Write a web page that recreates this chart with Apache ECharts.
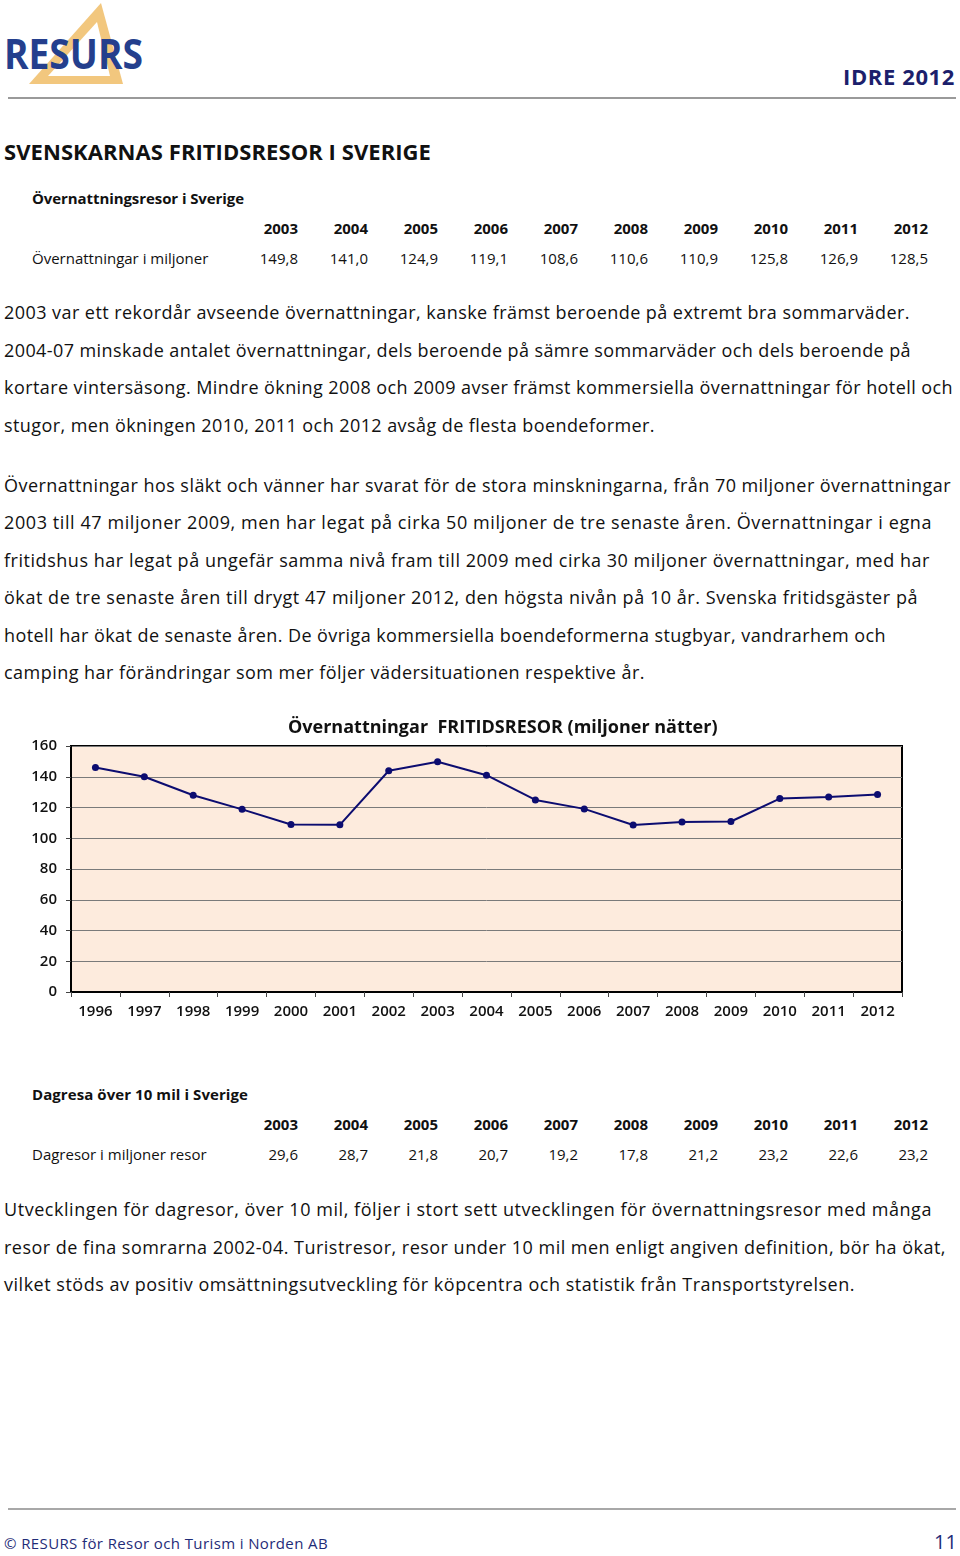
<!DOCTYPE html>
<html><head><meta charset="utf-8">
<script src="https://cdn.jsdelivr.net/npm/echarts@6/dist/echarts.min.js"></script>
<style>
html,body{margin:0;padding:0;background:#fff;}
body{width:960px;height:1556px;position:relative;overflow:hidden;font-family:"Open Sans","DejaVu Sans",sans-serif;color:#111;}
.t{position:absolute;white-space:nowrap;height:24px;line-height:24px;}
.p{font-size:18px;}
.b{font-weight:bold;}
.r{text-align:right;}
.rule{position:absolute;left:8px;width:948px;height:2px;background:#9a9a9a;}
</style></head><body>
<svg style="position:absolute;left:0;top:0" width="160" height="95">
  <polygon points="29,84 101,3 123,84" fill="#f2c77e"/>
  <polygon points="48,76 97,22 110,76" fill="#ffffff"/>
</svg>
<div class="t b" id="logo" style="left:4px;top:30px;height:46px;line-height:46px;font-size:42px;color:#243f8d;transform-origin:0 0;">RESURS</div>
<div class="t b" data-w="112" style="left:843px;top:64px;font-size:22px;color:#1c1f6c;">IDRE 2012</div>
<div class="rule" style="top:97px;"></div>

<div class="t b" data-w="427" style="left:4px;top:139px;font-size:22px;">SVENSKARNAS FRITIDSRESOR I SVERIGE</div>
<div class="t b" data-w="212" style="left:32px;top:186px;font-size:15px;">Övernattningsresor i Sverige</div>

<div id="chart" style="position:absolute;left:0;top:700px;width:960px;height:335px;"></div>

<div class="t b" data-w="216" style="left:32px;top:1082px;font-size:15px;">Dagresa över 10 mil i Sverige</div>

<div class="rule" style="top:1508px;height:2px;background:#a8a8a8;"></div>
<div class="t" data-w="324" style="left:4px;top:1531px;font-size:15px;color:#1f2c78;">© RESURS för Resor och Turism i Norden AB</div>
<div class="t" style="left:934px;top:1530px;font-size:20px;color:#1f2c78;">11</div>

<script>
// ---------- data ----------
const tableYears = ['2003','2004','2005','2006','2007','2008','2009','2010','2011','2012'];
const overnightLabel = 'Övernattningar i miljoner';
const overnightValues = ['149,8','141,0','124,9','119,1','108,6','110,6','110,9','125,8','126,9','128,5'];
const dayTripLabel = 'Dagresor i miljoner resor';
const dayTripValues = ['29,6','28,7','21,8','20,7','19,2','17,8','21,2','23,2','22,6','23,2'];

const chartTitle = 'Övernattningar  FRITIDSRESOR (miljoner nätter)';
const chartYears = ['1996','1997','1998','1999','2000','2001','2002','2003','2004','2005','2006','2007','2008','2009','2010','2011','2012'];
const chartValues = [146.0, 140.0, 128.0, 118.8, 108.9, 108.7, 143.9, 149.8, 141.0, 124.9, 119.1, 108.6, 110.6, 110.9, 125.8, 126.9, 128.5];

const para1 = [
 ['2003 var ett rekordår avseende övernattningar, kanske främst beroende på extremt bra sommarväder.', 906],
 ['2004-07 minskade antalet övernattningar, dels beroende på sämre sommarväder och dels beroende på', 907],
 ['kortare vintersäsong. Mindre ökning 2008 och 2009 avser främst kommersiella övernattningar för hotell och', 949],
 ['stugor, men ökningen 2010, 2011 och 2012 avsåg de flesta boendeformer.', 651]
];
const para2 = [
 ['Övernattningar hos släkt och vänner har svarat för de stora minskningarna, från 70 miljoner övernattningar', 947],
 ['2003 till 47 miljoner 2009, men har legat på cirka 50 miljoner de tre senaste åren. Övernattningar i egna', 928],
 ['fritidshus har legat på ungefär samma nivå fram till 2009 med cirka 30 miljoner övernattningar, med har', 926],
 ['ökat de tre senaste åren till drygt 47 miljoner 2012, den högsta nivån på 10 år. Svenska fritidsgäster på', 914],
 ['hotell har ökat de senaste åren. De övriga kommersiella boendeformerna stugbyar, vandrarhem och', 882],
 ['camping har förändringar som mer följer vädersituationen respektive år.', 641]
];
const para3 = [
 ['Utvecklingen för dagresor, över 10 mil, följer i stort sett utvecklingen för övernattningsresor med många', 928],
 ['resor de fina somrarna 2002-04. Turistresor, resor under 10 mil men enligt angiven definition, bör ha ökat,', 942],
 ['vilket stöds av positiv omsättningsutveckling för köpcentra och statistik från Transportstyrelsen.', 851]
];

// ---------- page text ----------
function add(txt, cls, style, w){
  const d=document.createElement('div'); d.className='t '+cls; d.textContent=txt;
  d.setAttribute('style',style); if(w) d.dataset.w=w; document.body.appendChild(d); return d;
}
function table(headY, rowY, label, vals){
  tableYears.forEach((y,i)=>{
    const right = 298 + 70*i;
    add(y,'b r','left:'+(right-60)+'px;width:60px;top:'+(headY-12)+'px;font-size:15px;');
    add(vals[i],'r','left:'+(right-60)+'px;width:60px;top:'+(rowY-12)+'px;font-size:15px;');
  });
  add(label,'','left:32px;top:'+(rowY-12)+'px;font-size:15px;');
}
table(228,258,overnightLabel,overnightValues);
table(1124,1154,dayTripLabel,dayTripValues);

function para(lines, y0, step){
  lines.forEach((l,i)=>{
    const cy = y0 + step*i;
    add(l[0],'p','left:4px;top:'+Math.round(cy-12)+'px;', l[1]);
  });
}
para(para1, 312, 37.6);
para(para2, 485, 37.4);
para(para3, 1209, 37.5);

// fit widths via letter-spacing
document.querySelectorAll('[data-w]').forEach(el=>{
  const target=+el.dataset.w;
  el.style.letterSpacing='0px';
  const w=el.getBoundingClientRect().width;
  const n=el.textContent.length;
  el.style.letterSpacing=((target-w)/n)+'px';
});
// logo: narrow by horizontal scaling
(function(){
  const el=document.getElementById('logo');
  const w=el.getBoundingClientRect().width;
  el.style.transform='scaleX('+(139/w)+')';
})();

// ---------- chart ----------
const chart = echarts.init(document.getElementById('chart'));
chart.setOption({
  animation:false,
  title:{text:chartTitle,left:283,top:14,textStyle:{fontSize:18,fontWeight:'bold',color:'#111',fontFamily:'Open Sans'}},
  grid:{left:71,right:58,top:46,height:246,show:true,backgroundColor:'#fdebdd',borderColor:'#000',borderWidth:2},
  xAxis:{type:'category',data:chartYears,boundaryGap:true,
    axisLine:{show:true,lineStyle:{color:'#000',width:2}},
    axisTick:{show:true,length:5,lineStyle:{color:'#444'}},
    axisLabel:{fontSize:15,fontWeight:600,color:'#111',margin:12,fontFamily:'Open Sans',interval:0}},
  yAxis:{type:'value',min:0,max:160,interval:20,
    axisLine:{show:true,lineStyle:{color:'#000',width:2}},
    axisTick:{show:true,length:5,lineStyle:{color:'#444'}},
    axisLabel:{fontSize:15,fontWeight:600,color:'#111',margin:14,fontFamily:'Open Sans'},
    splitLine:{show:true,lineStyle:{color:'#7a7a7a',width:1}}},
  series:[{type:'line',data:chartValues,symbol:'circle',symbolSize:7,
    lineStyle:{color:'#0c0c70',width:2},itemStyle:{color:'#0c0c70'}}]
});
</script>
</body></html>
